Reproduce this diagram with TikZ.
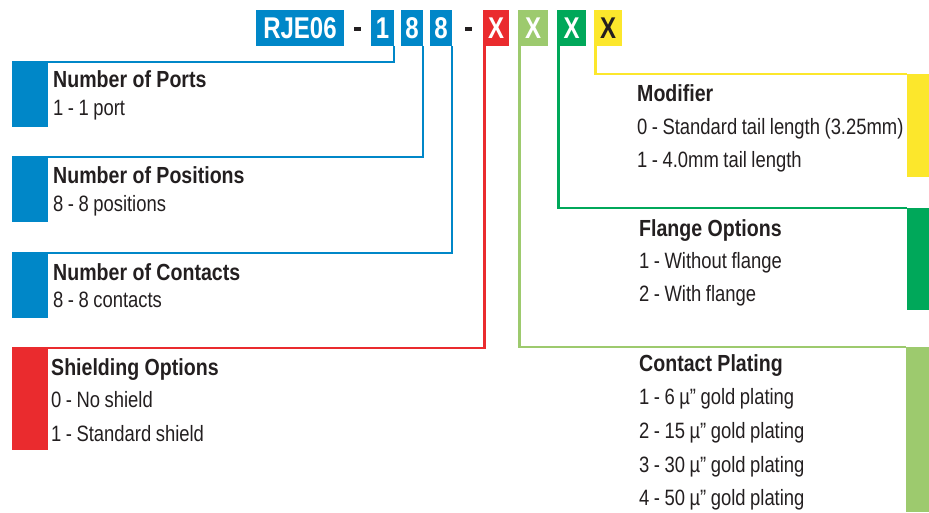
\documentclass[tikz,border=0pt]{standalone}
\usepackage{fontspec}
\setmainfont{Liberation Sans}[FakeStretch=0.83, WordSpace=0.88]
\newfontfamily\hdrfont{Liberation Sans}[FakeStretch=0.8]
\newfontfamily\ttlfont{Liberation Sans}[FakeStretch=0.84]
\definecolor{cblue}{RGB}{0,135,200}
\definecolor{cred}{RGB}{234,43,46}
\definecolor{clg}{RGB}{157,202,110}
\definecolor{cgreen}{RGB}{0,168,90}
\definecolor{cyellow}{RGB}{252,231,44}
\definecolor{ctext}{RGB}{35,31,32}
\tikzset{
  hbox/.style={rectangle, inner sep=0pt, minimum height=36pt, text=white,
    font=\hdrfont\fontsize{30}{32}\selectfont\bfseries},
  dashmark/.style={rectangle, inner sep=0pt, fill=ctext, minimum width=7pt, minimum height=3.5pt},
  bar/.style={rectangle, inner sep=0pt, draw=none},
  ttl/.style={anchor=base west, inner sep=0pt, text=ctext,
    font=\ttlfont\fontsize{23.3}{26}\selectfont\bfseries},
  itm/.style={anchor=base west, inner sep=0pt, text=ctext,
    font=\fontsize{22.2}{26}\selectfont},
  conn/.style={line width=2.5pt}
}
\begin{document}
\begin{tikzpicture}[x=1pt,y=-1pt]
\useasboundingbox (0,0) rectangle (929,512);
% header code
\node[hbox, fill=cblue, minimum width=88pt] (rje) at (300,28) {RJE06};
\node[dashmark] (d1) at (357.5,29) {};
\node[hbox, fill=cblue, minimum width=23pt] (one) at (382.5,28) {1};
\node[hbox, fill=cblue, minimum width=22pt] (ea) at (412,28) {8};
\node[hbox, fill=cblue, minimum width=22pt] (eb) at (441,28) {8};
\node[dashmark] (d2) at (468.5,29) {};
\node[hbox, fill=cred, minimum width=26pt] (xr) at (496,28) {X};
\node[hbox, fill=clg, minimum width=30pt] (xlg) at (533,28) {X};
\node[hbox, fill=cgreen, minimum width=29pt] (xg) at (571.5,28) {X};
\node[hbox, fill=cyellow, minimum width=28pt, text=ctext] (xy) at (608,28) {X};
% colour bars
\node[bar, fill=cblue, minimum width=36pt, minimum height=65pt, anchor=north west] (bports) at (12,62) {};
\node[bar, fill=cblue, minimum width=36pt, minimum height=65pt, anchor=north west] (bpos) at (12,157) {};
\node[bar, fill=cblue, minimum width=36pt, minimum height=65pt, anchor=north west] (bcont) at (12,253) {};
\node[bar, fill=cred, minimum width=36pt, minimum height=102pt, anchor=north west] (bshield) at (12,348) {};
\node[bar, fill=cyellow, minimum width=22pt, minimum height=103pt, anchor=north west] (bmod) at (907,74) {};
\node[bar, fill=cgreen, minimum width=22pt, minimum height=102pt, anchor=north west] (bflange) at (907,208) {};
\node[bar, fill=clg, minimum width=23pt, minimum height=165pt, anchor=north west] (bplat) at (906,347) {};
% connectors
\draw[conn, cblue] (one.south east) |- (bports.north west);
\draw[conn, cblue] (ea.south east) |- (bpos.north west);
\draw[conn, cblue] (eb.south east) |- (bcont.north west);
\draw[conn, cred] ([xshift=1.5pt]xr.south west) |- (bshield.north west);
\draw[conn, clg] ([xshift=1.5pt]xlg.south west) |- (bplat.north west);
\draw[conn, cgreen] ([xshift=1.5pt]xg.south west) |- (bflange.north west);
\draw[conn, cyellow] ([xshift=1.5pt]xy.south west) |- (bmod.north west);
% texts left
\node[ttl] (tports) at (53,87) {Number of Ports};
\node[itm] (iports) at (53,115) {1 - 1 port};
\node[ttl] (tpos) at (53,183) {Number of Positions};
\node[itm] (ipos) at (53,211) {8 - 8 positions};
\node[ttl] (tcont) at (53,280) {Number of Contacts};
\node[itm] (icont) at (53,307) {8 - 8 contacts};
\node[ttl] (tshield) at (51,375) {Shielding Options};
\node[itm] (ishA) at (51,407) {0 - No shield};
\node[itm] (ishB) at (51,441) {1 - Standard shield};
% texts right
\node[ttl] (tmod) at (637,101) {Modifier};
\node[itm] (imodA) at (637,134) {0 - Standard tail length (3.25mm)};
\node[itm] (imodB) at (637,167) {1 - 4.0mm tail length};
\node[ttl] (tfl) at (639,236) {Flange Options};
\node[itm] (iflA) at (639,268) {1 - Without flange};
\node[itm] (iflB) at (639,301) {2 - With flange};
\node[ttl] (tpl) at (639,371) {Contact Plating};
\node[itm] (iplA) at (639,404) {1 - 6 µ” gold plating};
\node[itm] (iplB) at (639,438) {2 - 15 µ” gold plating};
\node[itm] (iplC) at (639,472) {3 - 30 µ” gold plating};
\node[itm] (iplD) at (639,505) {4 - 50 µ” gold plating};
\end{tikzpicture}
\end{document}
